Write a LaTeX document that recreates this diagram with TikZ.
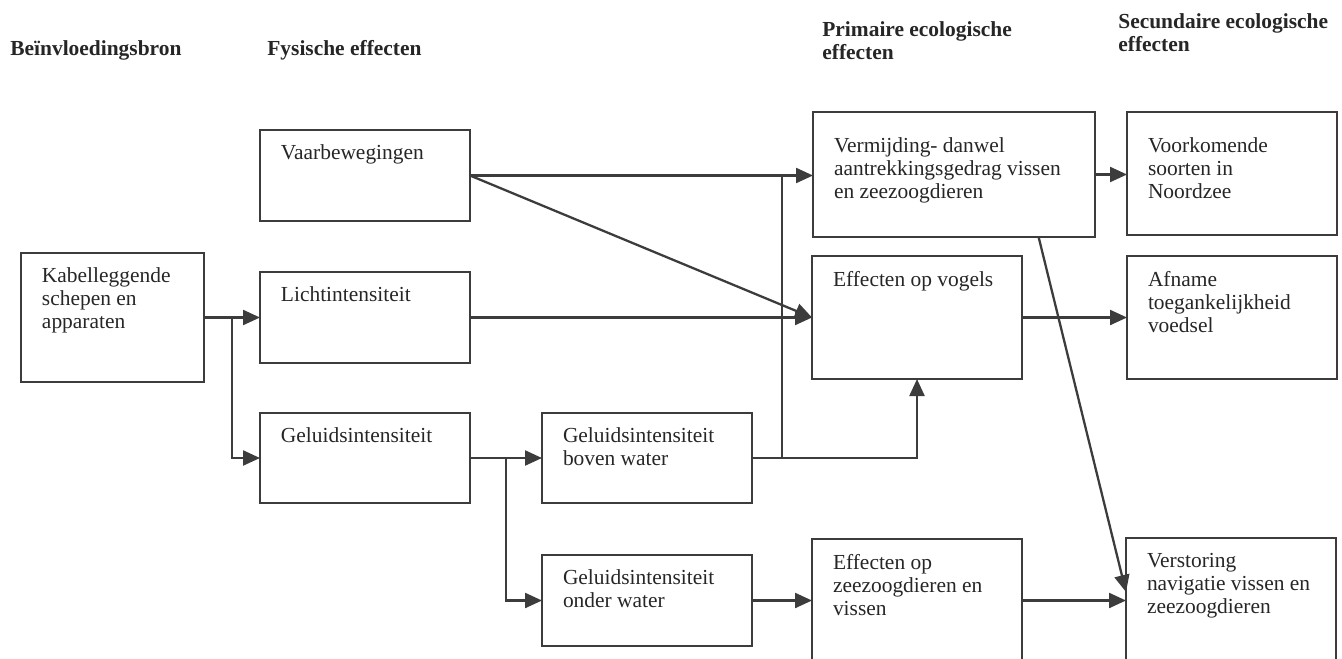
\documentclass[tikz,border=0pt]{standalone}
\usepackage{fontspec}
\setmainfont{Liberation Serif}
\usepackage{xcolor}
\usetikzlibrary{arrows.meta,positioning,calc}
\definecolor{ink}{HTML}{3C3C3C}
\newlength{\px}\setlength{\px}{0.02cm}
\newcommand{\bx}[3]{\parbox[t][\dimexpr#2\px-0.6cm\relax][t]{\dimexpr#1\px-0.84cm\relax}{#3}}

\begin{document}
\begin{tikzpicture}[x=0.02cm,y=-0.02cm,
  font=\fontsize{12.2}{13.1}\selectfont,
  block/.style={draw=ink, line width=1.2pt, anchor=north west,
    inner xsep=0.42cm, inner ysep=0.3cm, outer sep=0pt, text=black!85},
  head/.style={font=\fontsize{12.2}{13.1}\selectfont\bfseries,
    inner sep=0pt, align=left, text=black!85},
  link/.style={draw=ink, line width=1.3pt},
  arr/.style={link, -{Triangle[length=0.34cm,width=0.3cm]}}]
\path[use as bounding box, clip] (0,0) rectangle (1342,659);

% column heads
\node[head, anchor=base west] (hbron) at (10,55) {Beïnvloedingsbron};
\node[head, anchor=base west] (hfys) at (267,55) {Fysische effecten};
\node[head, anchor=north west] (hprim) at (822,21) {Primaire ecologische\\effecten};
\node[head, anchor=north west] (hsec) at (1118,13) {Secundaire ecologische\\effecten};

% boxes
\node[block] (kabel) at (21,253) {\bx{183}{129}{Kabelleggende\\schepen en\\apparaten}};
\node[block] (vaar) at (260,130) {\bx{210}{91}{Vaarbewegingen}};
\node[block] (licht) at (260,272) {\bx{210}{91}{Lichtintensiteit}};
\node[block] (geluid) at (260,413) {\bx{210}{90}{Geluidsintensiteit}};
\node[block] (boven) at (542,413) {\bx{210}{90}{Geluidsintensiteit\\boven water}};
\node[block] (onder) at (542,555) {\bx{210}{91}{Geluidsintensiteit\\onder water}};
\node[block] (vermijding) at (813,112) {\bx{282}{125}{\vspace*{0.22cm}Vermijding- danwel\\aantrekkingsgedrag vissen\\en zeezoogdieren}};
\node[block] (vogels) at (812,256) {\bx{210}{123}{Effecten op vogels}};
\node[block] (zeezoog) at (812,539) {\bx{210}{160}{Effecten op\\zeezoogdieren en\\vissen}};
\node[block] (voorkomen) at (1127,112) {\bx{210}{123}{\vspace*{0.22cm}Voorkomende\\soorten in\\Noordzee}};
\node[block] (afname) at (1127,256) {\bx{210}{123}{Afname\\toegankelijkheid\\voedsel}};
\node[block] (verstoring) at (1126,538) {\bx{210}{160}{Verstoring\\navigatie vissen en\\zeezoogdieren}};

% branch points
\coordinate (s1) at ($(kabel.east)!0.5!(licht.west)$);
\coordinate (s2) at ($(geluid.east)!0.5!(boven.west)$);
\coordinate (s3) at (782,0);

% connectors
\draw[arr] (kabel.east) -- (licht.west);
\draw[arr] (s1) |- (geluid.west);
\draw[arr] (vaar.east) -- (vaar.east -| vermijding.west);
\draw[arr] (vaar.east) -- (vogels.west);
\draw[arr] (licht.east) -- (vogels.west);
\draw[arr] (geluid.east) -- (boven.west);
\draw[arr] (s2) |- (onder.west);
\draw[arr] (boven.east) -| (vogels.south);
\draw[link] (boven.east -| s3) -- (vaar.east -| s3);
\draw[arr] (onder.east) -- (onder.east -| zeezoog.west);
\draw[arr] (onder.east -| zeezoog.east) -- (onder.east -| verstoring.west);
\draw[arr] ($(vermijding.south east)!0.2!(vermijding.south west)$) -- ($(verstoring.north west)+(0,54)$);
\draw[arr] (vermijding.east) -- (vermijding.east -| voorkomen.west);
\draw[arr] (vogels.east) -- (afname.west);
\end{tikzpicture}
\end{document}
